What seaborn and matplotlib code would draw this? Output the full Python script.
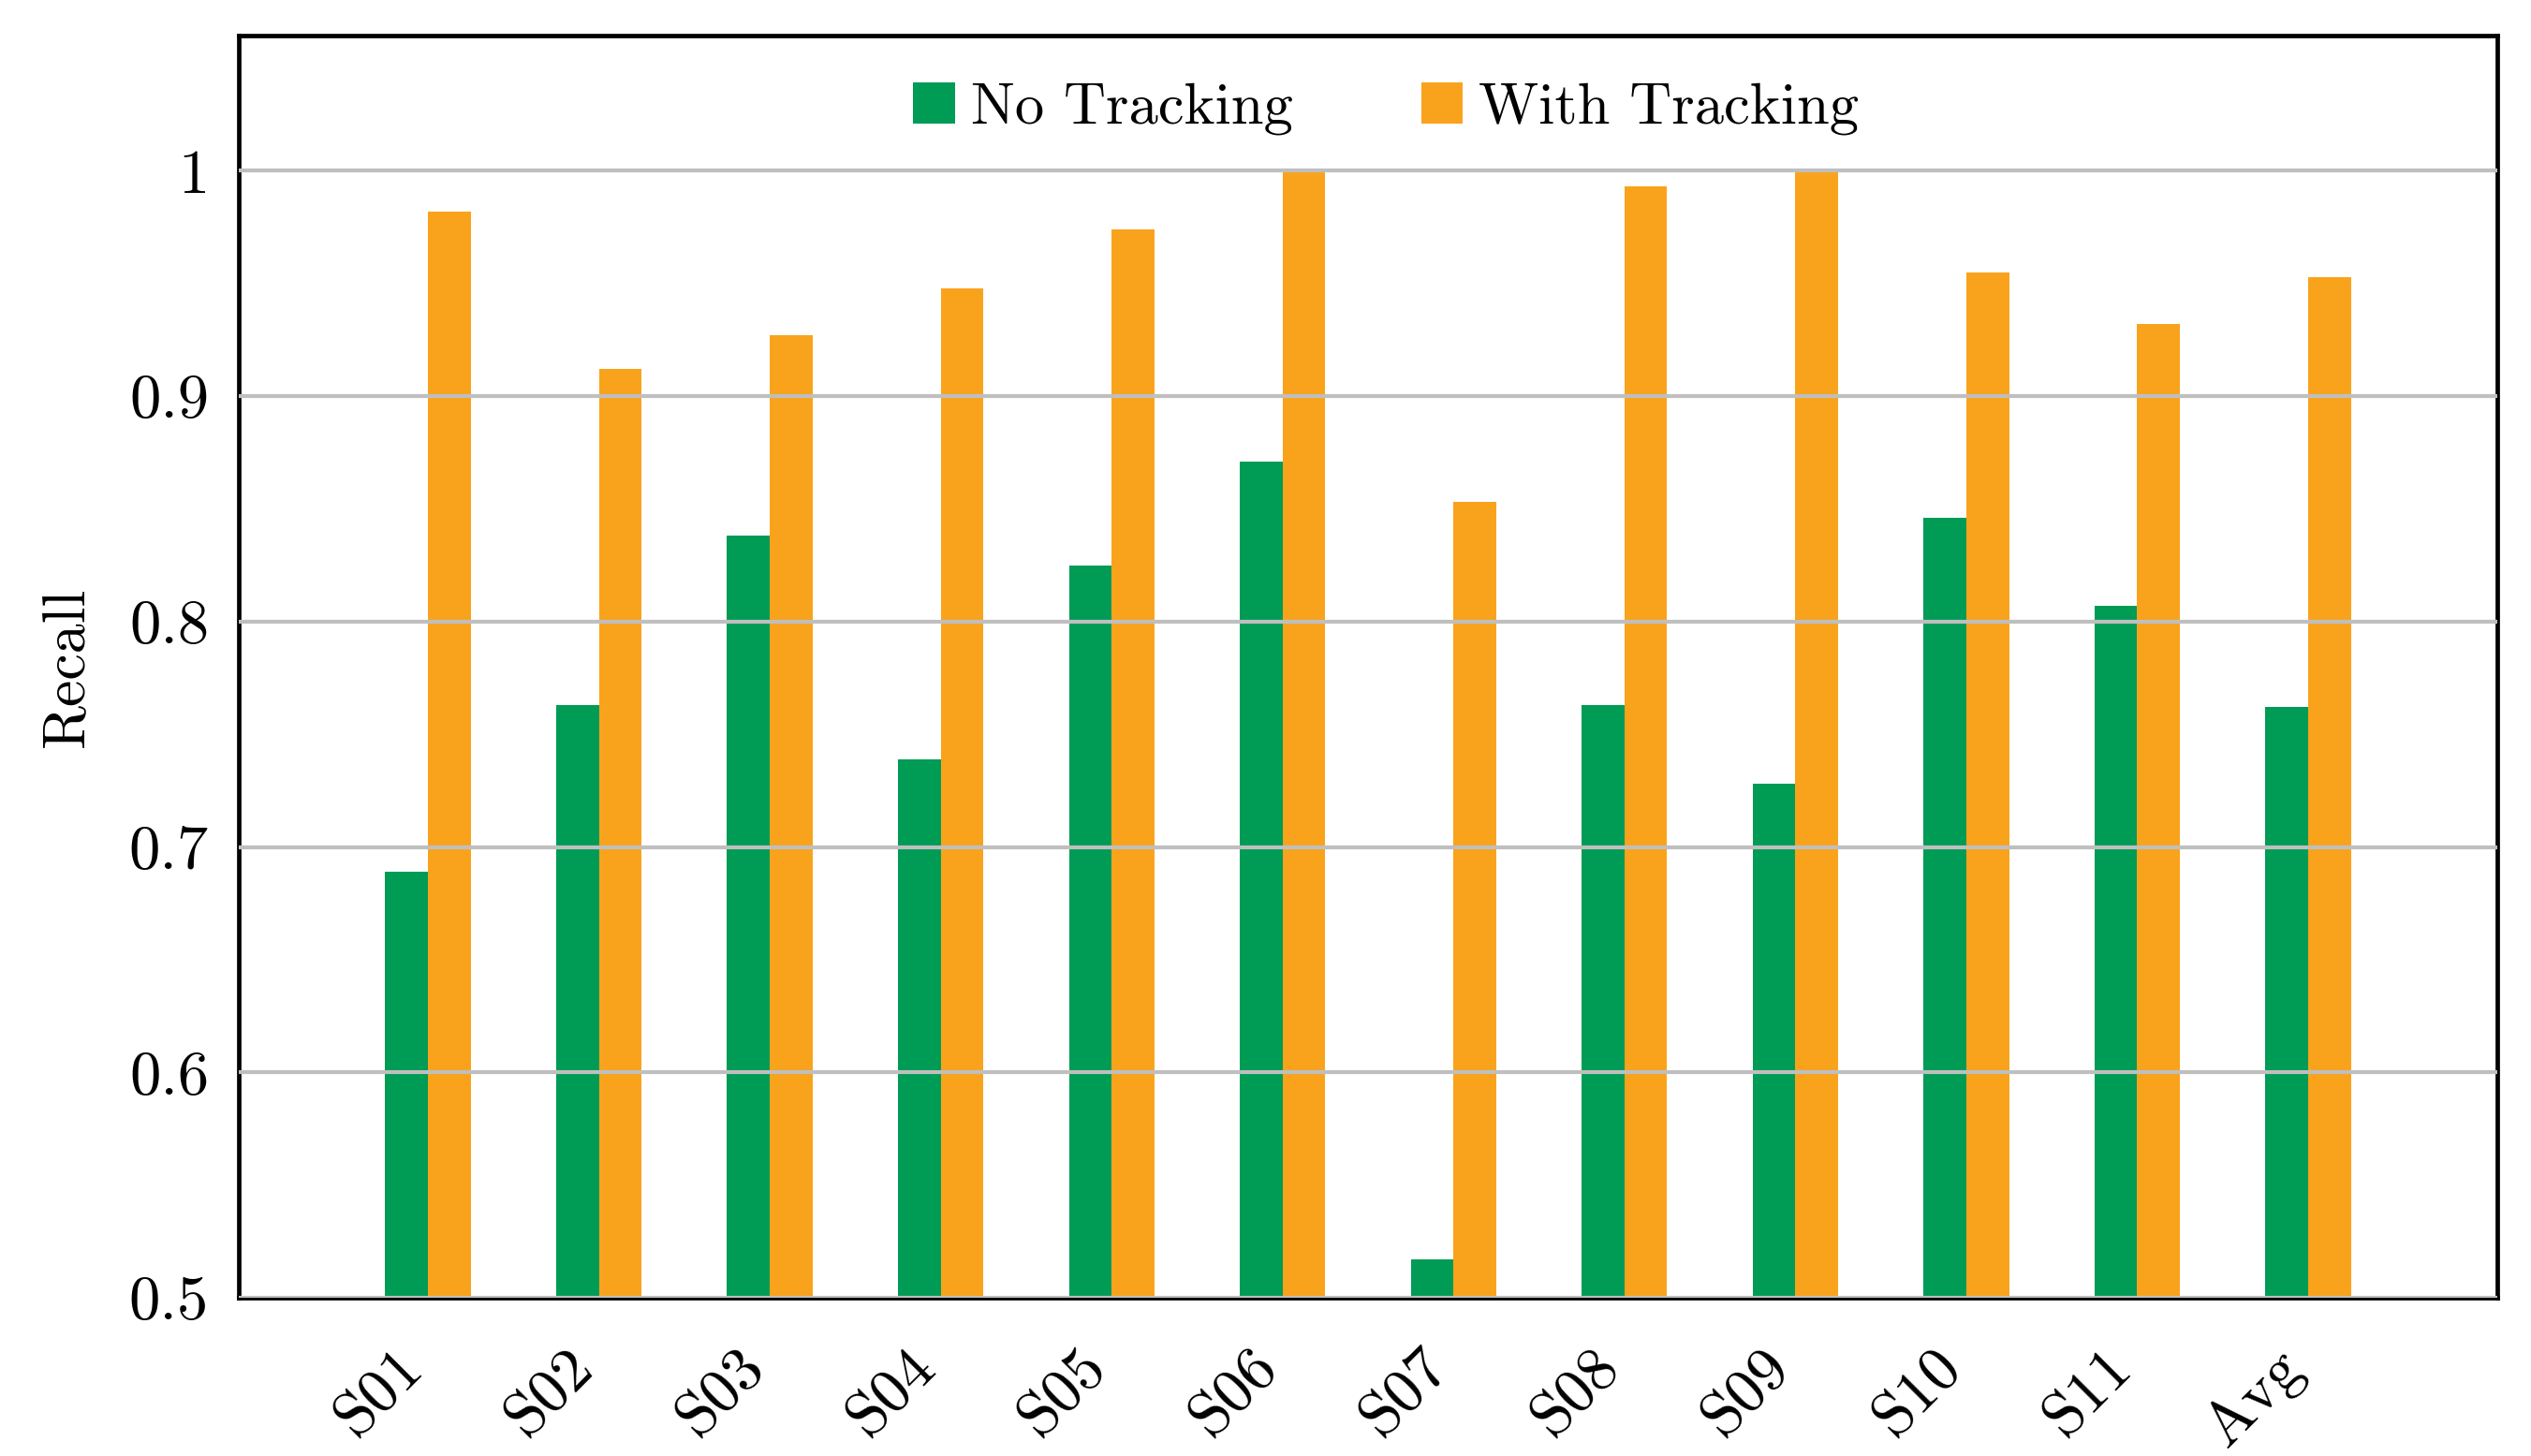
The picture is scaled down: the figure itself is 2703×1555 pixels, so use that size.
import pandas as pd
import matplotlib
matplotlib.use("Agg")
import matplotlib.pyplot as plt
from matplotlib.transforms import ScaledTranslation
import seaborn as sns

# -------------- Data

subjects = ["S01", "S02", "S03", "S04", "S05", "S06", "S07", "S08", "S09", "S10", "S11", "Avg"]
no_tracking = [0.689, 0.763, 0.838, 0.739, 0.825, 0.871, 0.517, 0.763, 0.728, 0.846, 0.807, 0.762]
with_tracking = [0.982, 0.912, 0.927, 0.948, 0.974, 1.000, 0.853, 0.993, 1.000, 0.955, 0.932, 0.953]
series_names = ["No Tracking", "With Tracking"]
y_ticks = [0.5, 0.6, 0.7, 0.8, 0.9, 1.0]
y_tick_labels = ["0.5", "0.6", "0.7", "0.8", "0.9", "1"]

green = "#009B55"
orange = "#F9A31C"

# long format for seaborn
df = pd.DataFrame({
    "subject": subjects * 2,
    "recall": no_tracking + with_tracking,
    "condition": [series_names[0]] * len(subjects) + [series_names[1]] * len(subjects),
})

# -------------- Plot

sns.set_style("white")
plt.rcParams["font.family"] = "serif"
plt.rcParams["font.serif"] = ["cmr10", "DejaVu Serif"]
plt.rcParams["axes.formatter.use_mathtext"] = True
plt.rcParams["text.color"] = "black"
plt.rcParams["axes.labelcolor"] = "black"
plt.rcParams["xtick.labelcolor"] = "black"
plt.rcParams["ytick.labelcolor"] = "black"

fig, ax = plt.subplots(figsize=(27.03, 15.55), dpi=100)
fig.subplots_adjust(left=255 / 2703, right=2667 / 2703, top=1 - 38 / 1555, bottom=1 - 1386 / 1555)

sns.barplot(data=df, x="subject", y="recall", hue="condition",
            palette=[green, orange], width=0.5, saturation=1,
            linewidth=0, ax=ax)

ax.set_xlim(-1.107, len(subjects) - 1 + 1.107)
ax.set_ylim(0.5, 1.06)
ax.set_yticks(y_ticks)
ax.set_yticklabels(y_tick_labels, fontsize=48, color="black")
ax.set_xticks(range(len(subjects)))
ax.set_xticklabels(subjects, fontsize=48, rotation=45, ha="right",
                   va="center", rotation_mode="anchor", color="black")

# grid drawn on top of the bars, like the original
ax.set_axisbelow(False)
ax.yaxis.grid(True, color="#BFBFBF", linewidth=3)
ax.xaxis.grid(False)

ax.tick_params(axis="x", length=27, width=0.8, color="#808080", direction="out", pad=20)
ax.tick_params(axis="y", length=0, pad=23)

# nudge rotated labels a bit to the left (after tick_params, which resets transforms)
shift = ScaledTranslation(-11 / 72, 0, fig.dpi_scale_trans)
for tick in ax.xaxis.get_major_ticks():
    tick.label1.set_transform(tick.label1.get_transform() + shift)

for sp in ax.spines.values():
    sp.set_visible(True)
    sp.set_color("black")
    sp.set_linewidth(3.4)

ax.set_xlabel("")
ax.set_ylabel("Recall", fontsize=46, labelpad=26, color="black")

ax.legend(loc="center", bbox_to_anchor=(0.508, 0.942), ncol=2, frameon=False,
          fontsize=45, handlelength=0.71, handleheight=0.71,
          handletextpad=0.27, columnspacing=2.2, borderpad=0)

plt.savefig("out.png", dpi=100)
